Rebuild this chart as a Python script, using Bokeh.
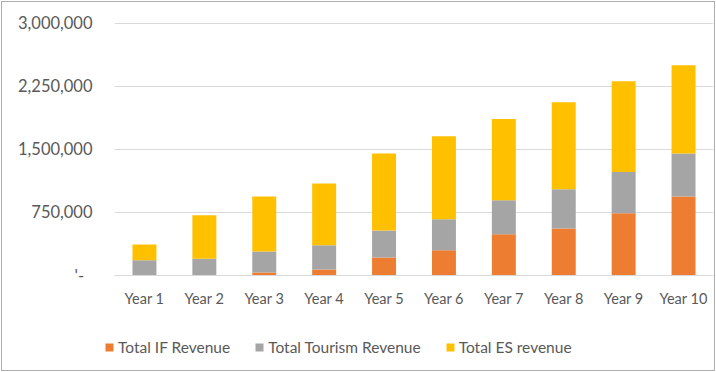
from bokeh.plotting import figure
from bokeh.layouts import column
from bokeh.models import (ColumnDataSource, NumeralTickFormatter, Legend, LegendItem,
                          FixedTicker, Range1d, FactorRange)
from bokeh.embed import file_html
from bokeh.resources import INLINE

years = ["Year 1", "Year 2", "Year 3", "Year 4", "Year 5",
         "Year 6", "Year 7", "Year 8", "Year 9", "Year 10"]
if_revenue = [0, 0, 35000, 70000, 215000, 300000, 490000, 560000, 740000, 940000]
tourism_revenue = [180000, 200000, 250000, 290000, 320000, 370000, 405000, 465000, 490000, 510000]
es_revenue = [190000, 515000, 655000, 735000, 915000, 985000, 965000, 1035000, 1080000, 1050000]

series = ["if_rev", "tourism_rev", "es_rev"]
labels = ["Total IF Revenue", "Total Tourism Revenue", "Total ES revenue"]
colors = ["#ED7D31", "#A5A5A5", "#FFC000"]
y_ticks = [0, 750000, 1500000, 2250000, 3000000]

source = ColumnDataSource(data=dict(years=years, if_rev=if_revenue,
                                    tourism_rev=tourism_revenue, es_rev=es_revenue))

FONT = "Lato"
TXT = "#595959"

# main chart
p = figure(x_range=years, y_range=(0, 3008000),
           width=712, height=313,
           output_backend="svg", toolbar_location=None,
           min_border_left=112, min_border_right=1, min_border_top=20, min_border_bottom=40)

p.vbar_stack(series, x="years", width=0.4, color=colors, line_width=0, source=source)

p.outline_line_color = None
p.xgrid.grid_line_color = None
p.ygrid.grid_line_color = "#D9D9D9"
p.ygrid.grid_line_width = 1.2
p.ygrid.ticker = FixedTicker(ticks=y_ticks)

p.yaxis.ticker = FixedTicker(ticks=y_ticks)
p.yaxis.formatter = NumeralTickFormatter(format="0,0")
p.yaxis.major_label_overrides = {0: "'-\u00a0\u00a0"}
p.yaxis.axis_line_color = None
p.yaxis.major_tick_line_color = None
p.yaxis.minor_tick_line_color = None
p.yaxis.major_tick_out = 0
p.yaxis.major_tick_in = 0
p.yaxis.minor_tick_out = 0
p.yaxis.major_label_standoff = 22
p.yaxis.major_label_text_font = FONT
p.yaxis.major_label_text_font_size = "16.5px"
p.yaxis.major_label_text_color = TXT

p.xaxis.axis_line_color = "#D9D9D9"
p.xaxis.axis_line_width = 1.2
p.xaxis.major_tick_line_color = None
p.xaxis.minor_tick_line_color = None
p.xaxis.major_tick_out = 0
p.xaxis.major_tick_in = 0
p.xaxis.minor_tick_out = 0
p.xaxis.major_label_standoff = 14
p.xaxis.major_label_text_font = FONT
p.xaxis.major_label_text_font_size = "14.5px"
p.xaxis.major_label_text_color = TXT
p.x_range.range_padding = 0

# legend strip: same stacked glyphs on a range that contains none of their
# categories, so only the legend swatches are drawn
lf = figure(x_range=FactorRange(factors=["legend"]), y_range=Range1d(0, 1),
            width=712, height=55,
            output_backend="svg", toolbar_location=None,
            min_border_left=0, min_border_right=0, min_border_top=0, min_border_bottom=0)
lrs = lf.vbar_stack(series, x="years", width=0.4, color=colors, line_width=0, source=source)
lf.axis.visible = False
lf.grid.visible = False
lf.outline_line_color = None
lf.styles = {"margin-left": "-10px"}

legend = Legend(items=[LegendItem(label=l, renderers=[r]) for l, r in zip(labels, lrs)],
                orientation="horizontal", location=(0, 14),
                glyph_width=10, glyph_height=10, label_standoff=4, spacing=24,
                padding=0, margin=0, border_line_color=None, background_fill_alpha=0,
                label_text_font=FONT, label_text_font_size="15.5px", label_text_color=TXT,
                label_height=17)
lf.add_layout(legend, "center")

layout = column(p, lf, spacing=0)
layout.styles = {"border": "1px solid #ADADAD", "margin": "1px", "gap": "0px",
                 "overflow": "hidden"}

open("out.html", "w").write(file_html(layout, INLINE))
